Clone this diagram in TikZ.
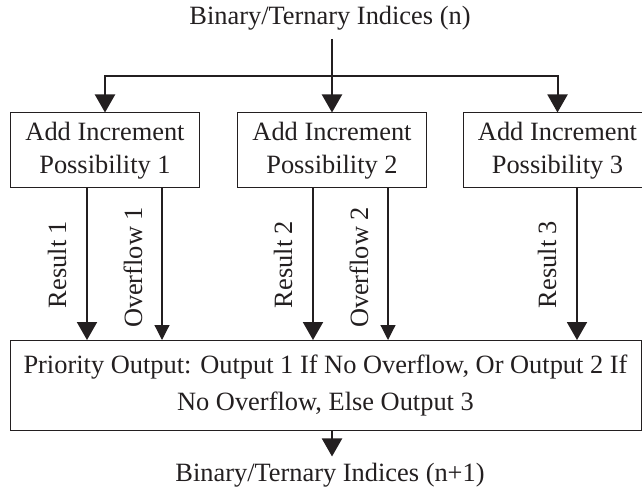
\documentclass[tikz,border=0pt]{standalone}
\usepackage{fontspec}
\setmainfont{Liberation Serif}
\usetikzlibrary{arrows.meta}

\definecolor{ink}{HTML}{231F20}

\tikzset{
  txt/.style={font=\fontsize{26.4}{33}\selectfont, text=ink, inner sep=0pt},
  stepbox/.style={draw=ink, line width=1pt, txt, align=center,
                  minimum width=189pt, minimum height=75pt},
  wide/.style={draw=ink, line width=1pt, txt, align=center,
               font=\fontsize{26.4}{37}\selectfont,
               minimum width=631pt, minimum height=90pt},
  main/.style={draw=ink, line width=2pt,
               -{Triangle[length=18pt,width=20pt]}},
  feed/.style={draw=ink, line width=2pt, line join=miter},
  flag/.style={draw=ink, line width=1.2pt,
               -{Triangle[length=15pt,width=15pt]}},
  vlabel/.style={txt, rotate=90, anchor=base}
}

\begin{document}
\begin{tikzpicture}[x=1pt, y=-1pt]
  \useasboundingbox (0,0) rectangle (642,489);
  \clip (0,0) rectangle (642,489);

  % input indices and fan-out
  \node[txt, anchor=base, inner ysep=8pt] (title) at (330,25) {Binary/Ternary Indices (n)};
  \coordinate (split) at (332,76);

  \node[stepbox] (b1) at (105,150.5) {Add Increment\\Possibility 1};
  \node[stepbox] (b2) at (332,150.5) {Add Increment\\Possibility 2};
  \node[stepbox] (b3) at (557.5,150.5) {Add Increment\\Possibility 3};

  \draw[feed] (title.south -| split) -- (split);
  \draw[main] (split) -| (b1.north);
  \draw[main] (split) -- (b2.north);
  \draw[main] (split) -| (b3.north);

  % priority selection
  \node[wide, anchor=north] (out) at (325.5,340)
    {Priority Output: Output 1 If No Overflow, Or Output 2 If\\No Overflow, Else Output 3};

  % result and overflow lines
  \coordinate (r1) at (87,0);
  \coordinate (o1) at (162,0);
  \coordinate (r2) at (313,0);
  \coordinate (o2) at (388,0);
  \coordinate (r3) at (577,0);

  \draw[main] (b1.south -| r1) -- (out.north -| r1);
  \draw[flag] (b1.south -| o1) -- (out.north -| o1);
  \draw[main] (b2.south -| r2) -- (out.north -| r2);
  \draw[flag] (b2.south -| o2) -- (out.north -| o2);
  \draw[main] (b3.south -| r3) -- (out.north -| r3);

  \node[vlabel] (lr1) at (66,264.5) {Result 1};
  \node[vlabel] (lo1) at (142,267.5) {Overflow 1};
  \node[vlabel] (lr2) at (292,264.5) {Result 2};
  \node[vlabel] (lo2) at (368,267.5) {Overflow 2};
  \node[vlabel] (lr3) at (556,264.5) {Result 3};

  % next indices
  \node[txt, anchor=base, inner ysep=6pt] (next) at (330,481) {Binary/Ternary Indices (n+1)};
  \draw[main] (out.south -| split) -- (next.north -| split);
\end{tikzpicture}
\end{document}
